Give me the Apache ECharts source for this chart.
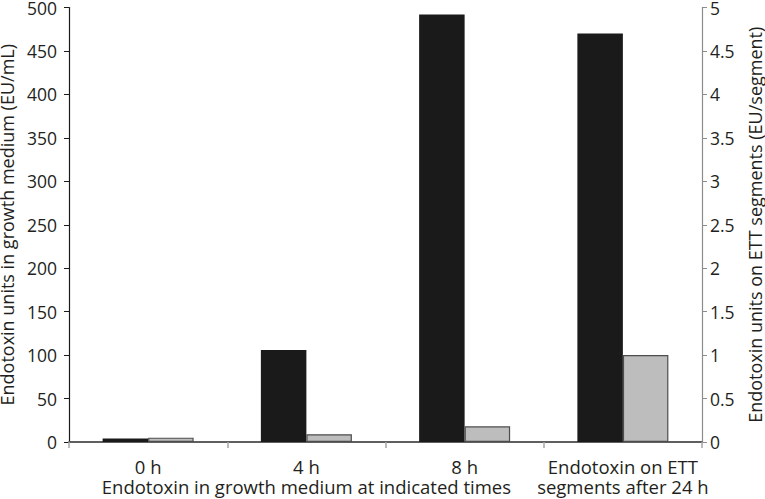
<!DOCTYPE html>
<html><head><meta charset="utf-8">
<script src="https://cdn.jsdelivr.net/npm/echarts@6/dist/echarts.min.js"></script>
<style>html,body{margin:0;padding:0;background:#fff}#c{width:765px;height:499px}</style>
</head><body><div id="c"></div>
<script>
const categories = ['0 h', '4 h', '8 h', 'Endotoxin on ETT\nsegments after 24 h'];
const groupLabels = ['', 'Endotoxin in growth medium at indicated times', '', ''];
const mediumValues = [4, 106, 492, 470];      // left axis, EU/mL
const segmentValues = [0.05, 0.09, 0.18, 1.0]; // right axis, EU/segment
const leftTicks = [0, 50, 100, 150, 200, 250, 300, 350, 400, 450, 500];
const rightTicks = [0, 0.5, 1, 1.5, 2, 2.5, 3, 3.5, 4, 4.5, 5];

const FONT = 'Open Sans';
const TXT = '#231f20';
const FS = 17.5;
const FN = 18.5;
const FT = 18;
const chart = echarts.init(document.getElementById('c'), null, {renderer: 'svg'});
chart.setOption({
  animation: false,
  textStyle: {fontFamily: FONT},
  grid: {left: 69, right: 63, top: 7.5, bottom: 57, containLabel: false, outerBoundsMode: 'none'},
  xAxis: [{
    type: 'category', data: categories, position: 'bottom',
    axisLine: {lineStyle: {color: '#a6a6a6', width: 1.5}},
    axisTick: {show: true, length: 6, lineStyle: {color: '#a6a6a6', width: 1.5}},
    axisLabel: {interval: 0, color: TXT, fontSize: FN, fontFamily: FONT, margin: 14, lineHeight: 20}
  }, {
    type: 'category', data: categories, position: 'top',
    axisLine: {lineStyle: {color: '#404040', width: 1.5}},
    axisTick: {show: false}, axisLabel: {show: false}
  }, {
    type: 'category', data: groupLabels, position: 'bottom',
    axisLine: {show: false}, axisTick: {show: false},
    axisLabel: {interval: function (idx, val) { return val !== ''; }, color: TXT, fontSize: FN, fontFamily: FONT, margin: 35, lineHeight: 19}
  }],
  yAxis: [{
    type: 'value', min: leftTicks[0], max: leftTicks[leftTicks.length - 1], interval: leftTicks[1] - leftTicks[0],
    name: 'Endotoxin units in growth medium (EU/mL)', nameLocation: 'middle', nameGap: 49, nameRotate: 90,
    nameTextStyle: {color: TXT, fontSize: FT, fontFamily: FONT, lineHeight: 18},
    axisLine: {show: true, lineStyle: {color: '#1a1a1a', width: 1.2}},
    axisTick: {show: true, length: 5, lineStyle: {color: '#1a1a1a'}},
    axisLabel: {color: TXT, fontSize: FS, fontFamily: FONT, margin: 12, lineHeight: 12},
    splitLine: {show: false}
  }, {
    type: 'value', position: 'right', min: rightTicks[0], max: rightTicks[rightTicks.length - 1], interval: rightTicks[1] - rightTicks[0],
    name: 'Endotoxin units on ETT segments (EU/segment)', nameLocation: 'middle', nameGap: 41, nameRotate: 90,
    nameTextStyle: {color: TXT, fontSize: FT, fontFamily: FONT, lineHeight: 18},
    axisLine: {show: true, lineStyle: {color: '#8c8c8c', width: 1.2}},
    axisTick: {show: true, length: 5, lineStyle: {color: '#8c8c8c'}},
    axisLabel: {color: TXT, fontSize: FS, fontFamily: FONT, margin: 8, lineHeight: 12},
    splitLine: {show: false}
  }],
  series: [{
    type: 'bar', name: 'Medium', data: mediumValues, yAxisIndex: 0, xAxisIndex: 0,
    barWidth: 45.5, barGap: '0%',
    itemStyle: {color: '#1a1a1a', borderColor: '#1a1a1a', borderWidth: 0}
  }, {
    type: 'bar', name: 'Segments', data: segmentValues, yAxisIndex: 1, xAxisIndex: 0,
    barWidth: 45.5, barGap: '0%',
    itemStyle: {color: '#bdbdbd', borderColor: '#4d4d4d', borderWidth: 1.2}
  }]
});
</script></body></html>
